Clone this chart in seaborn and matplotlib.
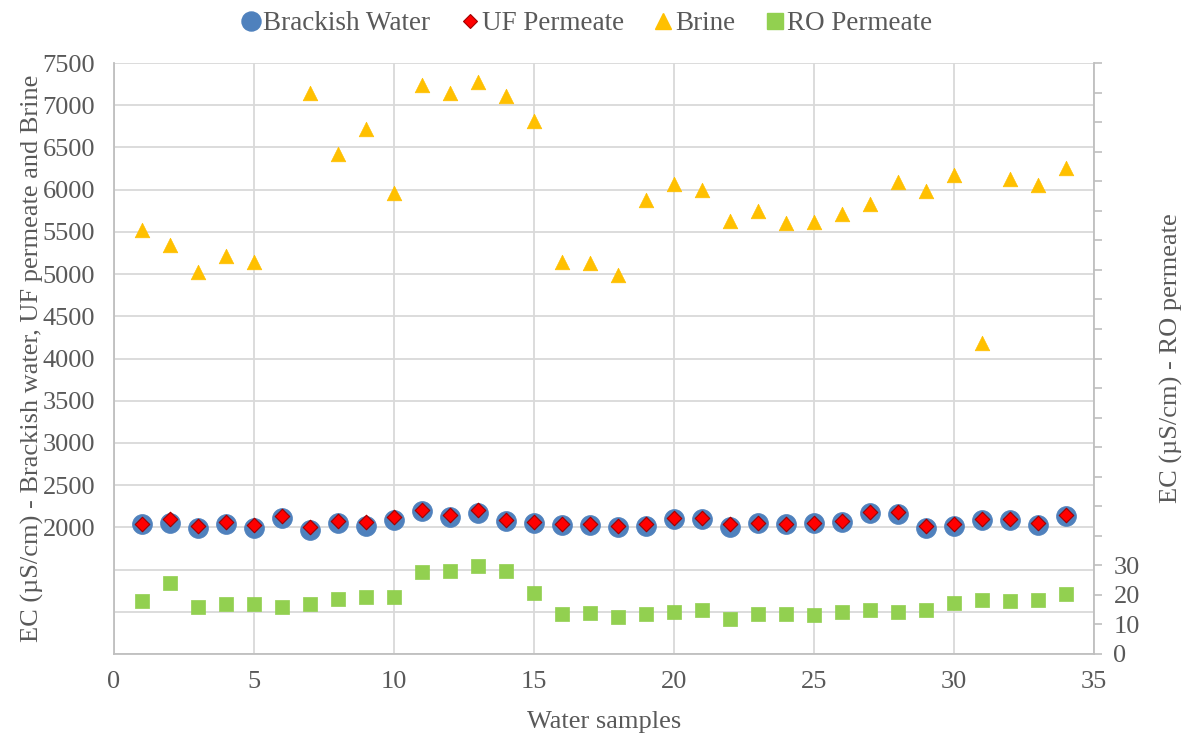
import numpy as np
import matplotlib
matplotlib.use("Agg")
import matplotlib.pyplot as plt
from matplotlib.lines import Line2D
import seaborn as sns
from matplotlib.ticker import FuncFormatter, MultipleLocator

# Electrical conductivity of each stream for 34 water samples
samples = list(range(1, 35))

brackish_water = [2035, 2047, 1988, 2035, 1996, 2115, 1973, 2052, 2020, 2091,
                  2189, 2126, 2174, 2079, 2056, 2024, 2024, 2000, 2020, 2099,
                  2099, 2000, 2047, 2035, 2049, 2069, 2166, 2158, 1988, 2012,
                  2087, 2091, 2032, 2135]

uf_permeate = [2035, 2099, 2012, 2064, 2028, 2135, 2000, 2079, 2059, 2118,
               2209, 2150, 2201, 2091, 2064, 2035, 2035, 2020, 2035, 2107,
               2115, 2035, 2056, 2043, 2057, 2079, 2185, 2178, 2012, 2035,
               2099, 2103, 2047, 2150]

brine = [5520, 5339, 5030, 5210, 5147, np.nan, 7147, 6421, 6724, 5956,
         7236, 7147, 7272, 7113, 6815, 5149, 5137, 4994, 5875, 6073,
         5996, 5629, 5752, 5600, 5621, 5712, 5830, 6094, 5980, 6176,
         4183, 6122, 6058, 6252]

ro_permeate = [18.0, 24.0, 15.9, 16.8, 16.9, 15.9, 16.8, 18.5, 19.3, 19.2,
               27.7, 28.2, 29.7, 28.2, 20.6, 13.4, 13.8, 12.5, 13.5, 14.3,
               14.9, 11.8, 13.4, 13.4, 13.2, 14.2, 14.9, 14.2, 14.9, 17.1,
               18.3, 17.8, 18.3, 20.2]

series_names = ["Brackish Water", "UF Permeate", "Brine", "RO Permeate"]
x_label = "Water samples"
left_label = "EC (µS/cm) - Brackish water, UF permeate and Brine"
right_label = "EC (µS/cm) - RO permeate"

sns.set_style("white")
plt.rcParams["font.family"] = ["Liberation Serif", "DejaVu Serif"]
text_gray = "#595959"
grid_gray = "#D9D9D9"
axis_gray = "#BFBFBF"
font_size = 19

c_blue, c_red, c_red_edge = "#4F81BD", "#FF0000", "#A00000"
c_orange, c_green = "#FFC000", "#92D050"

fig = plt.figure(figsize=(11.83, 7.33), dpi=100)
ax = fig.add_axes([0.0964, 0.1078, 0.8284, 0.8062])
ax2 = ax.twinx()

sns.scatterplot(x=samples, y=brackish_water, marker="o", s=205, color=c_blue,
                edgecolor=c_blue, linewidth=0.5, ax=ax, legend=False, zorder=3)
sns.scatterplot(x=samples, y=uf_permeate, marker="D", s=55, color=c_red,
                edgecolor=c_red_edge, linewidth=0.8, ax=ax, legend=False, zorder=4)
sns.scatterplot(x=samples, y=brine, marker="^", s=110, color=c_orange,
                edgecolor=c_orange, linewidth=0.5, ax=ax, legend=False, zorder=3)
sns.scatterplot(x=samples, y=ro_permeate, marker="s", s=105, color=c_green,
                edgecolor=c_green, linewidth=0.5, ax=ax2, legend=False, zorder=3)

# Left axis
ax.set_xlim(0, 35)
ax.set_ylim(500, 7500)
ax.xaxis.set_major_locator(MultipleLocator(5))
ax.yaxis.set_major_locator(MultipleLocator(500))
ax.yaxis.set_major_formatter(FuncFormatter(lambda v, p: f"{v:.0f}" if v >= 2000 else ""))
ax.grid(True, color=grid_gray, linewidth=1.3)
ax.set_axisbelow(True)
ax.tick_params(axis="both", length=0, labelsize=font_size, labelcolor=text_gray)
ax.tick_params(axis="y", pad=13.5)
ax.tick_params(axis="x", pad=12)
for side in ["top", "right"]:
    ax.spines[side].set_visible(False)
for side in ["left", "bottom"]:
    ax.spines[side].set_color(axis_gray)
    ax.spines[side].set_linewidth(1.3)
ax.set_xlabel(x_label, fontsize=font_size, color=text_gray, labelpad=13)
ax.set_ylabel(left_label, fontsize=font_size, color=text_gray, labelpad=-1)

# Right axis
ax2.set_ylim(0, 200)
ax2.yaxis.set_major_locator(MultipleLocator(10))
ax2.yaxis.set_major_formatter(FuncFormatter(lambda v, p: f"{v:.0f}" if v <= 30 else ""))
ax2.tick_params(axis="y", length=6, width=1.2, color=axis_gray, labelsize=font_size,
                labelcolor=text_gray, pad=8)
for side in ["top", "left", "bottom"]:
    ax2.spines[side].set_visible(False)
ax2.spines["right"].set_color(axis_gray)
ax2.spines["right"].set_linewidth(1.3)
ax2.set_ylabel(right_label, fontsize=font_size, color=text_gray, labelpad=14.5)

legend_handles = [
    Line2D([], [], ls="none", marker="o", markersize=13.7, color=c_blue),
    Line2D([], [], ls="none", marker="D", markersize=7.6, color=c_red,
           markeredgecolor=c_red_edge, markeredgewidth=0.8),
    Line2D([], [], ls="none", marker="^", markersize=11.5, color=c_orange),
    Line2D([], [], ls="none", marker="s", markersize=11.3, color=c_green),
]
leg = fig.legend(legend_handles, series_names, loc="upper center",
                 bbox_to_anchor=(0.495, 1.018), ncol=4, frameon=False,
                 fontsize=19.5, handletextpad=0.0, handlelength=0.9,
                 columnspacing=1.0)
for t in leg.get_texts():
    t.set_color(text_gray)

fig.savefig("out.png", dpi=100)
